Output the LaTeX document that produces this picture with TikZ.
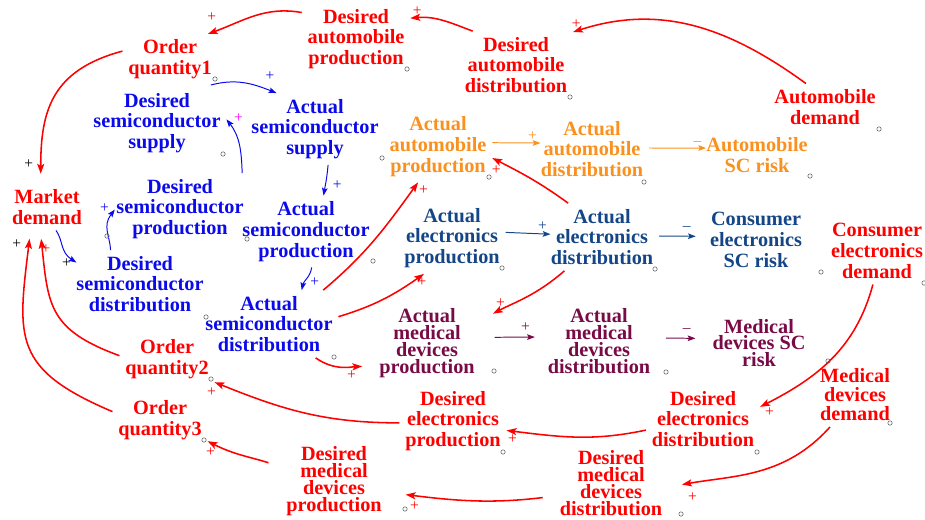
\documentclass[tikz,border=0pt]{standalone}
\usepackage{fontspec}
\setmainfont{Liberation Serif}
\usetikzlibrary{arrows.meta}
\definecolor{myred}{RGB}{255, 0, 0}
\definecolor{myblue}{RGB}{10, 10, 235}
\definecolor{myorange}{RGB}{250, 145, 30}
\definecolor{mynavy}{RGB}{20, 70, 135}
\definecolor{mymaroon}{RGB}{120, 10, 70}
\definecolor{mymagenta}{RGB}{255, 0, 255}

\begin{document}
\begin{tikzpicture}[
    x=0.025cm, y=-0.025cm,
    var/.style={align=center, inner sep=4pt, font=\fontsize{14.4}{14.8}\selectfont\bfseries},
    var4/.style={var, font=\fontsize{14.4}{12}\selectfont\bfseries},
    link/.style={->, >={Stealth[length=7pt, width=5pt, inset=1.5pt]}, line width=1.1pt, myred},
    thinlink/.style={->, >={Stealth[length=5.5pt, width=4pt, inset=1pt]}, line width=0.7pt},
    pol/.style={font=\fontsize{11}{11}\selectfont, inner sep=0pt},
    handle/.style={draw=black!60, line width=0.4pt}
]
\useasboundingbox (0,0) rectangle (925,519);

% Automobile chain
\node[var, text=myred] (dap) at (356,39) {Desired\\automobile\\production};
\node[var, text=myred] (dad) at (516,65) {Desired\\automobile\\distribution};
\node[var, text=myred] (ad) at (825,107) {Automobile\\demand};
\node[var, text=myorange] (aap) at (438,146.5) {Actual\\automobile\\production};
\node[var, text=myorange] (aad) at (592,149) {Actual\\automobile\\distribution};
\node[var, text=myorange] (asr) at (757,155) {Automobile\\SC risk};

% Semiconductor chain
\node[var, text=myred] (oq1) at (170,59.5) {Order\\quantity1};
\node[var, text=myblue] (dss) at (157,123) {Desired\\semiconductor\\supply};
\node[var, text=myblue] (ass) at (315,129) {Actual\\semiconductor\\supply};
\node[var, text=myred] (md) at (47,207) {Market\\demand};
\node[var, text=myblue] (dsp) at (180,209) {Desired\\semiconductor\\production};
\node[var, text=myblue] (asp) at (306,231.5) {Actual\\semiconductor\\production};
\node[var, text=myblue] (dsd) at (140,284) {Desired\\semiconductor\\distribution};
\node[var, text=myblue] (asd) at (269,324) {Actual\\semiconductor\\distribution};

% Electronics chain
\node[var, text=mynavy] (aep) at (452,238) {Actual\\electronics\\production};
\node[var, text=mynavy] (aed) at (602,237) {Actual\\electronics\\distribution};
\node[var, text=mynavy] (cer) at (756,240) {Consumer\\electronics\\SC risk};
\node[var, text=myred] (ced) at (877,251) {Consumer\\electronics\\demand};
\node[var, text=myred] (dep) at (453,421) {Desired\\electronics\\production};
\node[var, text=myred] (ded) at (703,419) {Desired\\electronics\\distribution};

% Medical devices chain
\node[var4, text=mymaroon] (amp) at (427,343) {Actual\\medical\\devices\\production};
\node[var4, text=mymaroon] (amd) at (599,341) {Actual\\medical\\devices\\distribution};
\node[var4, text=mymaroon] (mdr) at (759,343) {Medical\\devices SC\\risk};
\node[var, text=myred, font=\fontsize{14.4}{13.5}\selectfont\bfseries] (mdd) at (855,395) {Medical\\devices\\demand};
\node[var4, text=myred] (dmp) at (334,481) {Desired\\medical\\devices\\production};
\node[var4, text=myred] (dmd) at (611,483) {Desired\\medical\\devices\\distribution};

% Orders
\node[var, text=myred] (oq2) at (167,359) {Order\\quantity2};
\node[var, text=myred] (oq3) at (160,420) {Order\\quantity3};

% Top loop
\draw[link] (dap.154) to[out=170, in=20] (oq1.34) node[pol, shift={(4,-16.5)}] {+};
\draw[link] (dad.142) to[out=159, in=5] (dap.21) node[pol, shift={(7,-7)}] {+};
\draw[link] (ad.129) to[out=144, in=18] (dad.30) node[pol, shift={(3,-8)}] {+};
\draw[link, shorten >=7pt] (oq1.170) to[out=195, in=90, looseness=1.2] (md.105) node[pol, text=black, shift={(-12,-19)}] {+};

% Semiconductor links
\draw[thinlink, myblue] (oq1.328) to[out=15, in=158] (ass.137) node[pol, shift={(-6.5,-17)}] {+};
\draw[thinlink, myblue] (dsp.30) to[out=92, in=308] (dss.3) node[pol, text=mymagenta, shift={(12,-1)}] {+};
\draw[thinlink, myblue] (ass.290) to[out=265, in=80] (asp.64) node[pol, shift={(13.6,-10)}] {+};
\draw[thinlink, myblue, shorten >=-5pt] (md.291) to[out=306, in=147] (dsd.160) node[pol, text=black, shift={(-4,4)}] {+};
\draw[thinlink, myblue, shorten >=-5pt] (dsd.131) to[out=92, in=232] (dsp.185) node[pol, shift={(-6,-7)}] {+};
\draw[thinlink, myblue] (asp.279) to[out=262, in=78] (asd.46) node[pol, shift={(13,-8)}] {+};

% Semiconductor supply to the three industries
\draw[link] (asd.32) to[out=40, in=234] (aap.241) node[pol, shift={(5.5,8)}] {+};
\draw[link] (asd.6) to[out=17, in=215] (aep.232) node[pol, shift={(-2,8.5)}] {+};
\draw[link, shorten >=8pt] (asd.324) to[out=325, in=183] (amp.203) node[pol, shift={(-22,9.5)}] {+};

% Industry chains
\draw[thinlink, myorange, shorten >=-4pt] (aap.4) -- (aad.174) node[pol, shift={(-2.4,-7)}] {+};
\draw[thinlink, myorange, shorten >=-4pt] (aad.1) -- (asr.173) node[pol, shift={(-3,-5)}] {\textendash};
\draw[link] (aed.135) to[out=144, in=333] (aap.348) node[pol, shift={(4,12.4)}] {+};
\draw[thinlink, mynavy, shorten >=-4pt] (aep.6) -- (aed.177) node[pol, shift={(-2.4,-7.6)}] {+};
\draw[thinlink, mynavy, shorten >=6pt] (aed.1) -- (cer.176) node[pol, shift={(-17.4,-7.4)}] {\textendash};
\draw[link, shorten >=10pt] (aed.222) to[out=221, in=28] (amp.23) node[pol, shift={(20,-17.5)}] {+};
\draw[thinlink, mymaroon, shorten <=10pt, shorten >=5pt] (amp.6) -- (amd.176) node[pol, shift={(-16.4,-9.4)}] {+};
\draw[thinlink, mymaroon, shorten <=7pt, shorten >=8pt] (amd.3) -- (mdr.175) node[pol, shift={(-20,-8)}] {\textendash};

% Bottom loop
\draw[link] (ced.263) to[out=255, in=27] (ded.12) node[pol, shift={(9.4,5.5)}] {+};
\draw[link, shorten >=10pt] (mdd.232) to[out=228, in=10] (dmd.356) node[pol, shift={(24.4,10)}] {+};
\draw[link] (ded.191) to[out=192, in=353] (dep.350) node[pol, shift={(6,8.4)}] {+};
\draw[link] (dep.182) to[out=180, in=338] (oq2.334) node[pol, shift={(-3,10)}] {+};
\draw[link, shorten <=8pt, shorten >=13pt] (dmd.193) to[out=187, in=353] (dmp.348) node[pol, shift={(27,14)}] {+};
\draw[link, shorten <=9pt] (dmp.165) to[out=162, in=333] (oq3.336) node[pol, shift={(3,11)}] {+};
\draw[link, shorten >=6pt] (oq2.176) to[out=160, in=276, looseness=1.3] (md.254) node[pol, shift={(5.6,18.2)}] {+};
\draw[link, shorten >=6pt] (oq3.170) to[out=157, in=263, looseness=1.4] (md.235) node[pol, text=black, shift={(-13.8,14)}] {+};

% Vensim handles
\foreach \x/\y in {407/69, 570/97, 879/129, 215/79, 223/154, 382/158, 489/177, 644/182,
    810/176, 247/239, 107/236, 206/317, 373/261, 502/268, 655/269, 821/272, 924/283,
    334/357, 494/371, 211/379, 204/440, 666/372, 828/361, 890/423, 757/452, 681/514,
    503/452, 405/509}
  \draw[handle] (\x,\y) circle[radius=2.2];

\end{tikzpicture}
\end{document}
